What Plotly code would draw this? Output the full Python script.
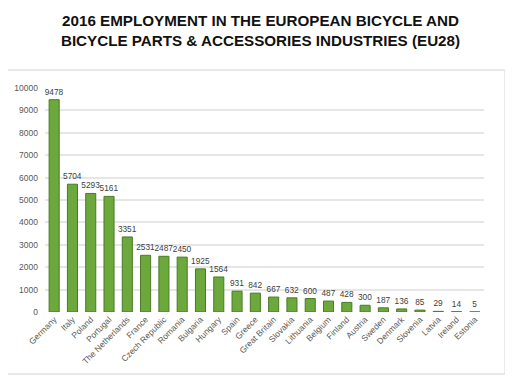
import plotly.graph_objects as go

countries = ["Germany", "Italy", "Poland", "Portugal", "The Netherlands", "France",
             "Czech Republic", "Romania", "Bulgaria", "Hungary", "Spain", "Greece",
             "Great Britain", "Slovakia", "Lithuania", "Belgium", "Finland", "Austria",
             "Sweden", "Denmark", "Slovenia", "Latvia", "Ireland", "Estonia"]
employment = [9478, 5704, 5293, 5161, 3351, 2531, 2487, 2450, 1925, 1564, 931, 842,
              667, 632, 600, 487, 428, 300, 187, 136, 85, 29, 14, 5]
y_ticks = [0, 1000, 2000, 3000, 4000, 5000, 6000, 7000, 8000, 9000, 10000]

fig = go.Figure()
fig.add_trace(go.Bar(
    x=countries, y=employment,
    marker=dict(color="#6CA83C", line=dict(color="#4A7A26", width=1)),
    text=[str(v) for v in employment], textposition="outside",
    constraintext="none",
    textfont=dict(family="Liberation Sans, Arial", size=8.3, color="#404040"),
    cliponaxis=False,
))

fig.update_layout(
    width=505, height=372,
    margin=dict(l=37, r=29, t=80, b=68),
    paper_bgcolor="white", plot_bgcolor="white",
    title=dict(text="<b>2016 EMPLOYMENT IN THE EUROPEAN BICYCLE AND<br>BICYCLE PARTS &amp; ACCESSORIES INDUSTRIES (EU28)</b>",
               x=0.5, xanchor="center", xref="container",
               y=1 - 18 / 372, yanchor="top", yref="container",
               font=dict(family="Liberation Sans, Arial", size=15.2, color="#111111")),
    bargap=0.45,
    showlegend=False,
    shapes=[dict(type="rect", xref="paper", yref="paper",
                 x0=-0.096, x1=1.048, y0=-0.277, y1=1.08,
                 line=dict(color="#E2E2E2", width=1.5))],
)
fig.update_xaxes(tickangle=-45, showgrid=False, showline=False, automargin=False,
                 tickfont=dict(family="Liberation Sans, Arial", size=8.5, color="#595959"))
fig.update_yaxes(range=[0, 10000], tickvals=y_ticks, ticktext=[str(t) for t in y_ticks],
                 gridcolor="#E6E6E6", gridwidth=1.5, automargin=False,
                 zeroline=False, showline=False, ticks="", ticklabelstandoff=6,
                 tickfont=dict(family="Liberation Sans, Arial", size=8.5, color="#595959"))

fig.write_html("out.html")
